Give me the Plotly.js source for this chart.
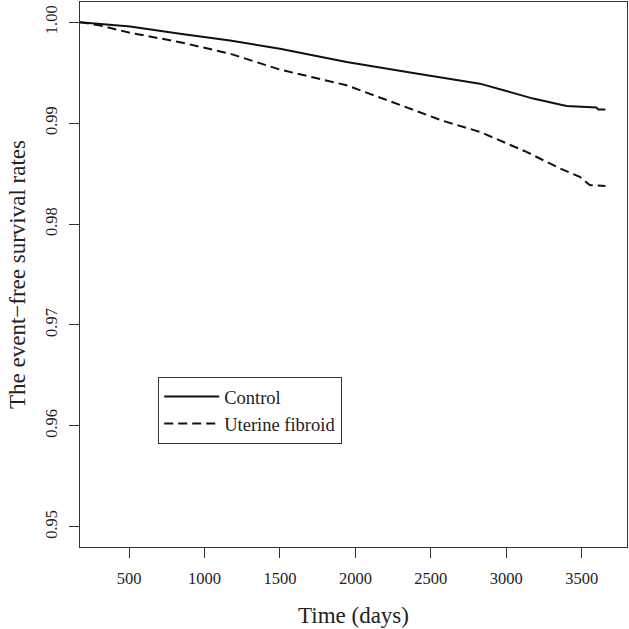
<!DOCTYPE html>
<html>
<head>
<meta charset="utf-8">
<script src="https://cdn.plot.ly/plotly-3.0.1.min.js"></script>
<style>html,body{margin:0;padding:0;background:#fff;}#chart{width:629px;height:629px;}</style>
</head>
<body>
<div id="chart"></div>
<script>
// Data
const controlDays  = [175, 507, 838, 1169, 1500, 1942, 2383, 2825, 3000, 3178, 3399, 3597, 3610, 3657];
const controlRates = [1.0000, 0.99957, 0.99885, 0.99819, 0.99737, 0.99605, 0.99496, 0.99391, 0.99318, 0.99243, 0.99170, 0.99154, 0.99134, 0.99134];
const fibroidDays  = [175, 300, 507, 838, 1169, 1435, 1500, 1942, 2383, 2582, 2825, 3134, 3355, 3487, 3553, 3657];
const fibroidRates = [1.0000, 0.99970, 0.99895, 0.99802, 0.99688, 0.99555, 0.99530, 0.99375, 0.99127, 0.99022, 0.98913, 0.98715, 0.98551, 0.98468, 0.98386, 0.98376];
const seriesNames = ["Control", "Uterine fibroid"];
const xTicks = [500, 1000, 1500, 2000, 2500, 3000, 3500];
const yTicks = [0.95, 0.96, 0.97, 0.98, 0.99, 1.00];
const yTickText = ["0.95", "0.96", "0.97", "0.98", "0.99", "1.00"];

const serif = "Liberation Serif, Times New Roman, serif";

const traces = [
  {x: controlDays, y: controlRates, name: seriesNames[0], type: "scatter", mode: "lines",
   line: {color: "#111", width: 2, dash: "solid"}},
  {x: fibroidDays, y: fibroidRates, name: seriesNames[1], type: "scatter", mode: "lines",
   line: {color: "#111", width: 2, dash: "9px,5px"}}
];

const axisCommon = {
  showgrid: false, zeroline: false, showline: true, mirror: true,
  linecolor: "#333", linewidth: 1, ticks: "outside", ticklen: 10, tickwidth: 1,
  tickcolor: "#333", tickfont: {family: serif, size: 16.5, color: "#222"}
};

const layout = {
  width: 629, height: 629,
  margin: {l: 80, r: 2, t: 2, b: 82},
  paper_bgcolor: "#fff", plot_bgcolor: "#fff",
  font: {family: serif, color: "#222"},
  xaxis: Object.assign({}, axisCommon, {
    range: [175, 3800], tickvals: xTicks, ticktext: xTicks.map(String),
    ticklabelstandoff: 6,
    title: {text: "Time (days)", font: {family: serif, size: 23, color: "#222"}, standoff: 20}
  }),
  yaxis: Object.assign({}, axisCommon, {
    range: [0.948, 1.002], tickvals: yTicks, ticktext: yTickText, tickangle: -90,
    ticklabelstandoff: 5,
    title: {text: "The event\u2212free survival rates", font: {family: serif, size: 23, color: "#222"}, standoff: 10}
  }),
  showlegend: true,
  legend: {
    x: 0.143, y: 0.2507, xanchor: "left", yanchor: "middle",
    bgcolor: "#fff", bordercolor: "#333", borderwidth: 1,
    font: {family: serif, size: 18.5, color: "#222"},
    itemwidth: 55
  }
};

Plotly.newPlot("chart", traces, layout, {staticPlot: true, displayModeBar: false});
</script>
</body>
</html>
